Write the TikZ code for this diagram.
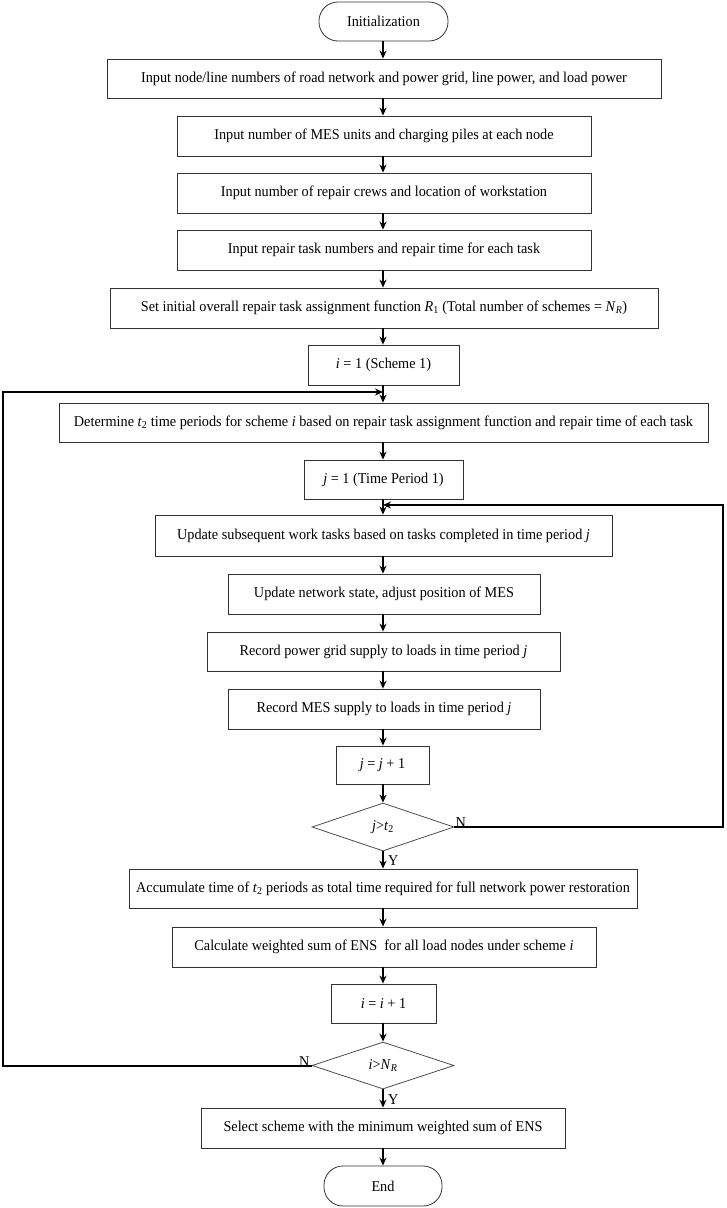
\documentclass[tikz,border=0pt]{standalone}
\usepackage{fontspec}
\setmainfont[FakeStretch=0.95]{Liberation Serif}
\usetikzlibrary{arrows.meta,shapes.geometric}
\newcommand\mi[1]{\textit{#1}}
\newcommand\sub[1]{\textsubscript{#1}}
\begin{document}
\begin{tikzpicture}[x=1pt,y=-1pt,
  box/.style={draw=black!80,line width=0.8pt,inner sep=0pt,font=\fontsize{15}{17}\selectfont},
  term/.style={box,rounded corners=19pt},
  dia/.style={draw=black!70,line width=0.8pt,diamond,aspect=3,inner sep=0pt,font=\fontsize{15}{17}\selectfont},
  arr/.style={line width=1.8pt,-{Stealth[length=8pt,width=7pt]}},
  loop/.style={line width=2pt},
  lab/.style={font=\fontsize{15}{17}\selectfont,inner sep=0pt}]
\useasboundingbox (0,0) rectangle (726,1208);
\node[term,minimum width=129pt,minimum height=39pt] (init) at (383.5,21.5) {Initialization};
\node[box,minimum width=554pt,minimum height=39pt] (b1) at (384,78.5) {Input node/line numbers of road network and power grid, line power, and load power};
\node[box,minimum width=414pt,minimum height=40pt] (b2) at (384,136) {Input number of MES units and charging piles at each node};
\node[box,minimum width=414pt,minimum height=40pt] (b3) at (384,193) {Input number of repair crews and location of workstation};
\node[box,minimum width=414pt,minimum height=40pt] (b4) at (384,250) {Input repair task numbers and repair time for each task};
\node[box,minimum width=548pt,minimum height=40pt] (b5) at (384,308) {Set initial overall repair task assignment function \mi{R}\sub{1} (Total number of schemes = \mi{N}\sub{\mi{R}})};
\node[box,minimum width=151pt,minimum height=40pt] (b6) at (383.5,365) {\mi{i} = 1 (Scheme 1)};
\node[box,minimum width=649pt,minimum height=39pt] (b7) at (383.5,422.5) {Determine \mi{t}\sub{2} time periods for scheme \mi{i} based on repair task assignment function and repair time of each task};
\node[box,minimum width=159pt,minimum height=39pt] (b8) at (383.5,479.5) {\mi{j} = 1 (Time Period 1)};
\node[box,minimum width=457pt,minimum height=41pt] (b9) at (383.5,535.5) {Update subsequent work tasks based on tasks completed in time period \mi{j}};
\node[box,minimum width=312pt,minimum height=40pt] (b10) at (384,594) {Update network state, adjust position of MES};
\node[box,minimum width=353pt,minimum height=39pt] (b11) at (383.5,651.5) {Record power grid supply to loads in time period \mi{j}};
\node[box,minimum width=312pt,minimum height=40pt] (b12) at (384,709) {Record MES supply to loads in time period \mi{j}};
\node[box,minimum width=93pt,minimum height=38pt] (b13) at (382.5,765) {\mi{j} = \mi{j} + 1};
\node[dia,minimum width=142pt,minimum height=48pt] (d1) at (383,827) {\mi{j}>\mi{t}\sub{2}};
\node[box,minimum width=508pt,minimum height=39pt] (b14) at (383,888.5) {Accumulate time of \mi{t}\sub{2} periods as total time required for full network power restoration};
\node[box,minimum width=424pt,minimum height=40pt] (b15) at (384,947) {Calculate weighted sum of ENS\ \ for all load nodes under scheme \mi{i}};
\node[box,minimum width=105pt,minimum height=39pt] (b16) at (383.5,1003.5) {\mi{i} = \mi{i} + 1};
\node[dia,minimum width=142pt,minimum height=47pt] (d2) at (383,1065.5) {\mi{i}>\mi{N}\sub{\mi{R}}};
\node[box,minimum width=364pt,minimum height=40pt] (b17) at (383,1128) {Select scheme with the minimum weighted sum of ENS};
\node[term,minimum width=118pt,minimum height=40pt] (end) at (383,1186) {End};
\coordinate (ax) at (383,0);
\coordinate (li) at (383,392);
\coordinate (lj) at (383,505);
\coordinate (ll) at (3,0);
\coordinate (rr) at (723,0);
\foreach \a/\b in {init/b1,b1/b2,b2/b3,b3/b4,b4/b5,b5/b6,b6/b7,b7/b8,b8/b9,b9/b10,b10/b11,b11/b12,b12/b13,b13/d1,d1/b14,b14/b15,b15/b16,b16/d2,d2/b17,b17/end}
  \draw[arr] (ax|-\a.south) -- (ax|-\b.north);
\draw[loop] (d2.west) -- (ll|-d2.west) -- (ll|-li) -- ++(300,0);
\draw[arr] (ll|-li) -- (li);
\draw[loop] (d1.east) -- (rr|-d1.east) -- (rr|-lj) -- ++(-300,0);
\draw[arr] (rr|-lj) -- (lj);
\node[lab,anchor=south west] (n1) at ([xshift=1pt,yshift=-1pt]d1.east) {N};
\node[lab,anchor=west] (y1) at (388,861) {Y};
\node[lab,anchor=south east] (n2) at ([xshift=-2pt,yshift=-1pt]d2.west) {N};
\node[lab,anchor=west] (y2) at (388,1100) {Y};
\end{tikzpicture}
\end{document}
